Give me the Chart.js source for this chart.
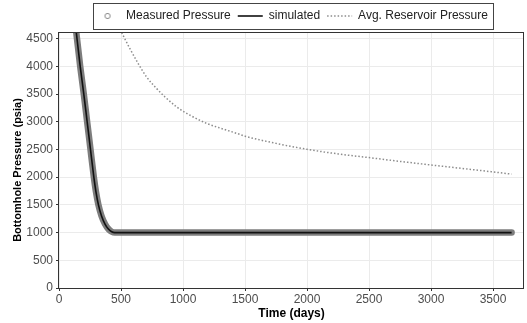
<!DOCTYPE html>
<html>
<head>
<meta charset="utf-8">
<script src="https://cdn.jsdelivr.net/npm/chart.js@4.4.1/dist/chart.umd.min.js"></script>
<style>
  html, body { margin: 0; padding: 0; background: #fff; }
</style>
</head>
<body>
<canvas id="chart" width="527" height="323"></canvas>
<script>
/* ── Data ──────────────────────────────────────────────── */
const seriesNames = ['Measured Pressure', 'simulated', 'Avg. Reservoir Pressure'];

const measDays = [0, 50, 100, 139, 171, 200, 227, 254, 281, 297, 318, 343, 372, 400, 425, 450, 500, 1000, 1500, 2000, 2500, 3000, 3500, 3650];
const measPsia = [7190, 6265, 5340, 4620, 4000, 3500, 3000, 2500, 2000, 1750, 1500, 1300, 1150, 1060, 1015, 1000, 1000, 1000, 1000, 1000, 1000, 1000, 1000, 1000];

const simDays = [0, 50, 100, 139, 171, 200, 227, 254, 281, 297, 318, 343, 372, 400, 425, 450, 500, 1000, 1500, 2000, 2500, 3000, 3500, 3650];
const simPsia = [7190, 6265, 5340, 4620, 4000, 3500, 3000, 2500, 2000, 1750, 1500, 1300, 1150, 1060, 1015, 1000, 1000, 1000, 1000, 1000, 1000, 1000, 1000, 1000];

const avgDays = [400, 450, 505, 573, 640, 707, 788, 855, 949, 1056, 1191, 1325, 1433, 1500, 1750, 2000, 2250, 2500, 2750, 3000, 3250, 3500, 3650];
const avgPsia = [5130, 4877, 4613, 4315, 4046, 3806, 3598, 3448, 3268, 3119, 2970, 2868, 2791, 2740, 2610, 2503, 2420, 2353, 2285, 2220, 2158, 2095, 2055];

const xTicks = [0, 500, 1000, 1500, 2000, 2500, 3000, 3500];
const yTicks = [0, 500, 1000, 1500, 2000, 2500, 3000, 3500, 4000, 4500];

const yTitle = 'Bottomhole Pressure (psia)';

const toXY = (xs, ys) => xs.map((x, i) => ({ x, y: ys[i] }));

/* ── Style ─────────────────────────────────────────────── */
Chart.defaults.font.family = "'Liberation Sans', Arial, sans-serif";
Chart.defaults.color = '#4d4d4d';

const GRID = '#ebebeb';
const INK = '#333333';

// hollow circle used as the legend key for the measured points
const dot = document.createElement('canvas');
dot.width = 10; dot.height = 10;
const dctx = dot.getContext('2d');
dctx.strokeStyle = '#8a8a8a';
dctx.lineWidth = 1;
dctx.beginPath(); dctx.arc(5, 5, 2.6, 0, Math.PI * 2); dctx.stroke();

/* ── Plugins: panel border, boxed legend, y title ──────── */
const panelBorder = {
  id: 'panelBorder',
  afterDatasetsDraw(chart) {
    const { ctx, chartArea: a } = chart;
    ctx.save();
    ctx.strokeStyle = INK;
    ctx.lineWidth = 1;
    ctx.strokeRect(Math.round(a.left) - 0.5, Math.round(a.top) + 0.5, Math.round(a.right - a.left), Math.round(a.bottom - a.top));
    ctx.restore();
  }
};

const legendFrame = {
  id: 'legendFrame',
  afterDraw(chart) {
    const boxes = chart.legend && chart.legend.legendHitBoxes;
    if (!boxes || !boxes.length) return;
    const left = Math.min(...boxes.map(b => b.left)) - 2;
    const right = Math.max(...boxes.map(b => b.left + b.width)) + 5;
    const mid = boxes[0].top + boxes[0].height / 2;
    const { ctx } = chart;
    ctx.save();
    ctx.strokeStyle = '#444';
    ctx.lineWidth = 1;
    ctx.strokeRect(Math.round(left) + 0.5, Math.round(mid - 13) + 0.5, Math.round(right - left), 26);
    ctx.restore();
  }
};

// the reference sets its y title a little below the panel centre
const yTitleDraw = {
  id: 'yTitleDraw',
  afterDraw(chart) {
    const { ctx, chartArea: a } = chart;
    ctx.save();
    ctx.translate(18, (a.top + a.bottom) / 2 + 10);
    ctx.rotate(-Math.PI / 2);
    ctx.font = "bold 11px 'Liberation Sans', Arial, sans-serif";
    ctx.fillStyle = '#000';
    ctx.textAlign = 'center';
    ctx.textBaseline = 'middle';
    ctx.fillText(yTitle, 0, 0);
    ctx.restore();
  }
};

/* ── Chart ─────────────────────────────────────────────── */
new Chart(document.getElementById('chart'), {
  type: 'line',
  data: {
    datasets: [
      {
        label: seriesNames[0],
        data: toXY(measDays, measPsia),
        borderColor: '#7d7d7d',
        borderWidth: 6.5,
        borderCapStyle: 'round',
        borderJoinStyle: 'round',
        pointRadius: 0,
        cubicInterpolationMode: 'monotone',
        clip: 0,
        order: 2,
      },
      {
        label: seriesNames[1],
        data: toXY(simDays, simPsia),
        borderColor: '#111',
        borderWidth: 1.6,
        pointRadius: 0,
        cubicInterpolationMode: 'monotone',
        clip: 0,
        order: 1,
      },
      {
        label: seriesNames[2],
        data: toXY(avgDays, avgPsia),
        borderColor: '#8c8c8c',
        borderWidth: 1.5,
        borderDash: [1.5, 2],
        pointRadius: 0,
        cubicInterpolationMode: 'monotone',
        clip: 0,
        order: 3,
      },
    ],
  },
  options: {
    responsive: false,
    animation: false,
    layout: { padding: { top: 3, right: 3, left: 0, bottom: 0 } },
    plugins: {
      tooltip: { enabled: false },
      legend: {
        position: 'top',
        fullSize: false,
        onClick: null,
        labels: {
          usePointStyle: true,
          pointStyleWidth: 25,
          padding: 7,
          color: '#222',
          font: { size: 12 },
          generateLabels: () => [
            { text: seriesNames[0], pointStyle: dot, strokeStyle: '#8a8a8a', fillStyle: 'rgba(0,0,0,0)', lineWidth: 1, hidden: false, datasetIndex: 0, fontColor: '#222' },
            { text: seriesNames[1], pointStyle: 'line', strokeStyle: '#111', fillStyle: '#111', lineWidth: 1.6, hidden: false, datasetIndex: 1, fontColor: '#222' },
            { text: seriesNames[2], pointStyle: 'line', strokeStyle: '#8c8c8c', fillStyle: '#8c8c8c', lineWidth: 1.5, lineDash: [1.5, 2], hidden: false, datasetIndex: 2, fontColor: '#222' },
          ],
        },
      },
    },
    scales: {
      x: {
        type: 'linear',
        min: 0,
        max: 3750,
        afterBuildTicks: s => { s.ticks = xTicks.map(v => ({ value: v })); },
        afterFit: s => { s.height = 35; },
        grid: { color: GRID, tickColor: INK, tickLength: 3 },
        border: { display: false },
        ticks: { padding: 1, maxRotation: 0, font: { size: 12 }, color: '#4d4d4d', callback: v => String(v) },
        title: { display: true, text: 'Time (days)', color: '#000', font: { size: 12, weight: 'bold' }, padding: { top: 0, bottom: 2 } },
      },
      y: {
        type: 'linear',
        min: 0,
        max: 4620,
        afterBuildTicks: s => { s.ticks = yTicks.map(v => ({ value: v })); },
        afterFit: s => { s.width = 59; },
        grid: { color: GRID, tickColor: INK, tickLength: 3 },
        border: { display: false },
        ticks: { padding: 3, font: { size: 12 }, color: '#4d4d4d', callback: v => String(v) },
      },
    },
  },
  plugins: [panelBorder, legendFrame, yTitleDraw],
});
</script>
</body>
</html>
